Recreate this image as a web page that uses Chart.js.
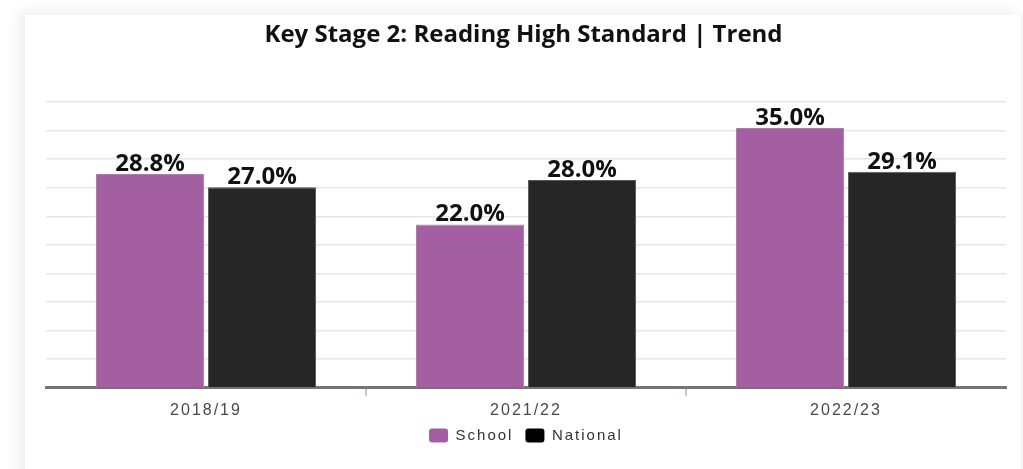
<!DOCTYPE html>
<html lang="en">
<head>
<meta charset="UTF-8">
<title>Key Stage 2: Reading High Standard | Trend</title>
<style>
    body {
        margin: 0;
        background: #fff;
        overflow: hidden;
    }
    .card {
        position: absolute;
        left: 25px;
        top: 15px;
        width: 996px;
        height: 470px;
        background: #fff;
        border-right: 1px solid #ececec;
        box-shadow: -6px -4px 12px rgba(0, 0, 0, 0.07);
    }
    .chart-box {
        position: absolute;
        left: 0;
        top: 0;
        width: 997px;
        height: 454px;
    }
</style>
</head>
<body>
<div class="card">
    <div class="chart-box">
        <canvas id="trendChart"></canvas>
    </div>
</div>

<script src="https://cdn.jsdelivr.net/npm/chart.js"></script>
<script>
    // data
    const years = ['2018/19', '2021/22', '2022/23'];
    const schoolValues = [28.8, 22.0, 35.0];
    const nationalValues = [27.0, 28.0, 29.1];
    const seriesNames = ['School', 'National'];
    const chartTitle = 'Key Stage 2: Reading High Standard | Trend';
    const yMax = 38.5;
    const yStep = 3.85;

    // the axis and legend text in the reference is spaced out wider
    const wideText = {
        id: 'wideText',
        beforeUpdate(chart) { chart.ctx.letterSpacing = '2px'; },
        beforeDraw(chart) { chart.ctx.letterSpacing = '2px'; }
    };

    // title and "xx.x%" value labels above the bars
    const barLabels = {
        id: 'barLabels',
        afterDraw(chart) {
            const ctx = chart.ctx;
            ctx.save();
            ctx.letterSpacing = '0px';
            ctx.fillStyle = '#111';
            ctx.textAlign = 'center';
            ctx.textBaseline = 'alphabetic';
            ctx.font = 'bold 24px "Open Sans", sans-serif';
            ctx.fillText(chartTitle, chart.width / 2, 27);

            chart.data.datasets.forEach((ds, i) => {
                chart.getDatasetMeta(i).data.forEach((bar, j) => {
                    ctx.fillText(ds.data[j].toFixed(1) + '%', bar.x, bar.y - 3);
                });
            });
            ctx.restore();
        }
    };

    const ctx = document.getElementById('trendChart').getContext('2d');
    const trendChart = new Chart(ctx, {
        type: 'bar',
        data: {
            labels: years,
            datasets: [{
                label: seriesNames[0],
                data: schoolValues,
                backgroundColor: '#a45fa2',
                borderColor: '#b07aae',
                borderWidth: 1,
                categoryPercentage: 0.7,
                barPercentage: 0.965
            }, {
                label: seriesNames[1],
                data: nationalValues,
                backgroundColor: '#262626',
                borderColor: '#5a5a5a',
                borderWidth: 1,
                categoryPercentage: 0.7,
                barPercentage: 0.965
            }]
        },
        options: {
            responsive: true,
            maintainAspectRatio: false,
            animation: false,
            layout: {
                padding: { left: 21, right: 16, top: 87, bottom: 16 }
            },
            plugins: {
                title: { display: false },
                legend: {
                    position: 'bottom',
                    labels: {
                        color: '#333',
                        font: { family: 'Arial', size: 15 },
                        padding: 12,
                        boxWidth: 19,
                        boxHeight: 14,
                        useBorderRadius: true,
                        borderRadius: 3,
                        generateLabels(chart) {
                            const fills = ['#a35ea3', '#000'];
                            return chart.data.datasets.map((ds, i) => ({
                                text: ds.label,
                                fillStyle: fills[i],
                                strokeStyle: fills[i],
                                lineWidth: 0,
                                fontColor: '#333',
                                datasetIndex: i,
                                borderRadius: 3
                            }));
                        }
                    }
                },
                tooltip: { enabled: false }
            },
            scales: {
                x: {
                    afterFit(scale) { scale.height -= 9; },
                    grid: {
                        display: true,
                        drawOnChartArea: false,
                        tickLength: 8,
                        // only the marks between categories, not at the ends
                        color: c => (c.type === 'tick' && c.index > 0) ? '#b8c8d8' : 'rgba(0,0,0,0)',
                        lineWidth: 2
                    },
                    border: { color: '#747474', width: 3 },
                    ticks: {
                        color: '#4a4a4a',
                        font: { family: 'Arial', size: 16 },
                        padding: 5
                    }
                },
                y: {
                    min: 0,
                    max: yMax,
                    ticks: { display: false, stepSize: yStep },
                    grid: { color: '#e6e6e6', lineWidth: 1.5, drawTicks: false },
                    border: { display: false }
                }
            }
        },
        plugins: [wideText, barLabels]
    });
</script>
</body>
</html>
